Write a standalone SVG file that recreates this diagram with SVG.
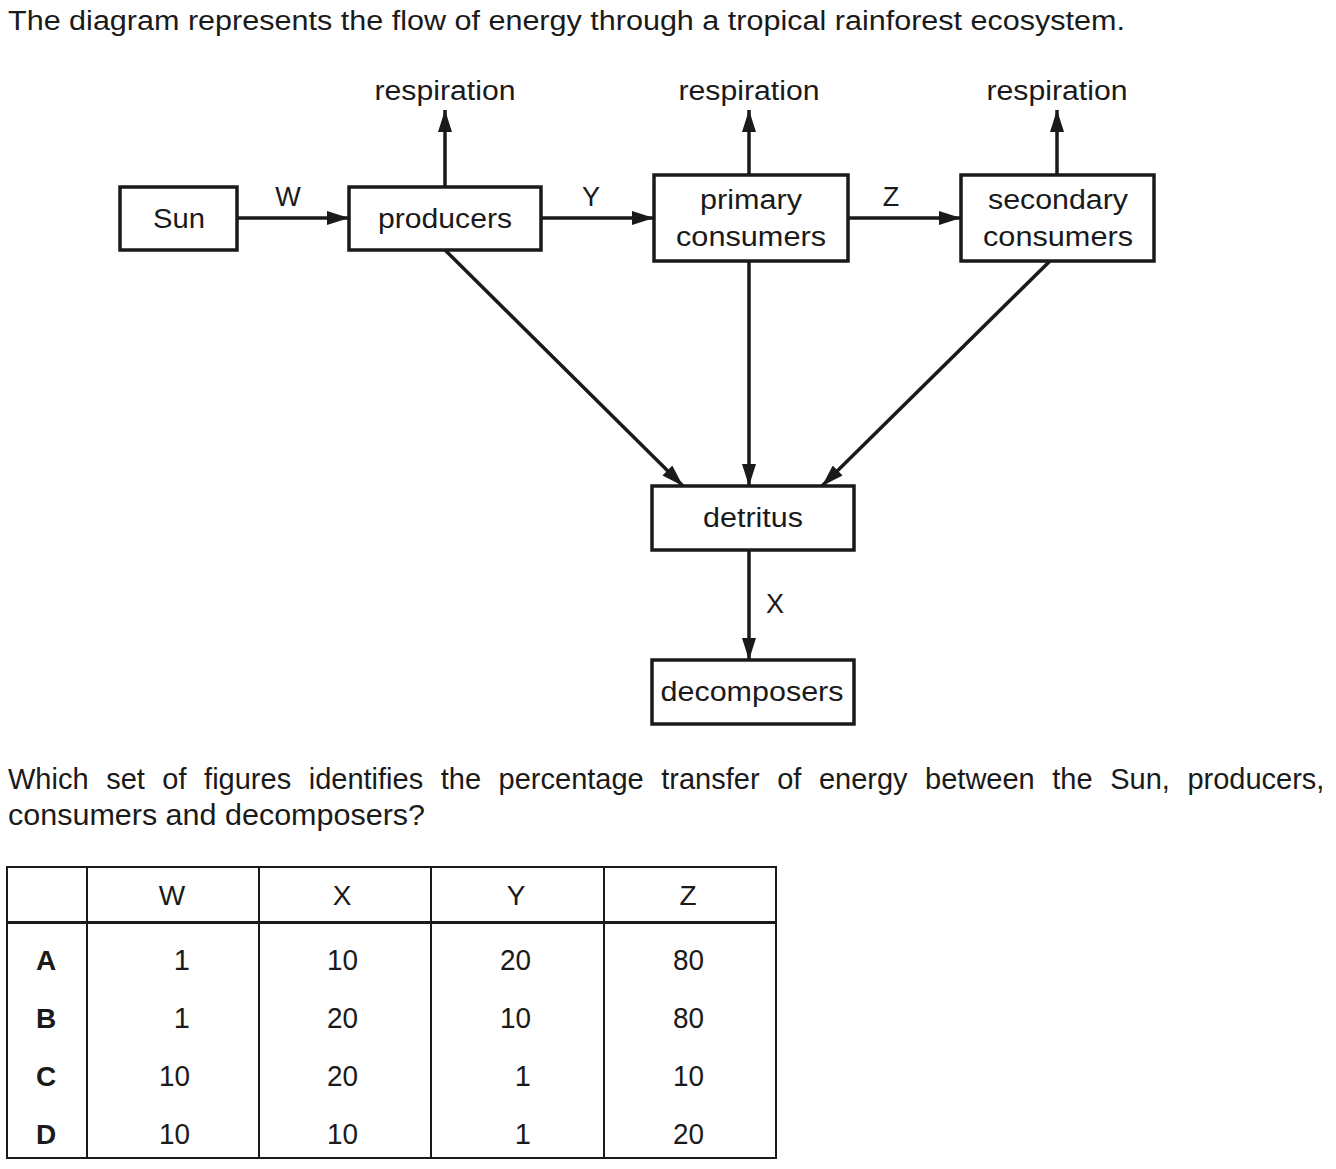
<svg xmlns="http://www.w3.org/2000/svg" width="1336" height="1169" viewBox="0 0 1336 1169">
<style>
text{font-family:"Liberation Sans",Arial,sans-serif;fill:#1a1a1a}
.t{font-size:27px}
.q{font-size:29px}
.l{font-size:27px;text-anchor:middle}
.box{fill:#fff;stroke:#1a1a1a;stroke-width:3.5}
.c{stroke:#1a1a1a;stroke-width:3.5;fill:none;marker-end:url(#ah)}
.g{stroke:#1a1a1a;stroke-width:2;fill:none}
.tb{font-size:28px;text-anchor:middle}
.tr{font-size:29px;text-anchor:end}
.b{font-weight:bold}
</style>
<defs>
<marker id="ah" viewBox="0 0 22 14" refX="22" refY="7" markerWidth="22" markerHeight="14" markerUnits="userSpaceOnUse" orient="auto">
<path d="M0,0 L22,7 L0,14 Z" fill="#1a1a1a"/>
</marker>
</defs>
<text class="t" x="8" y="30" textLength="1117" lengthAdjust="spacingAndGlyphs">The diagram represents the flow of energy through a tropical rainforest ecosystem.</text>

<g id="connectors">
<line class="c" x1="237" y1="218" x2="349" y2="218"/>
<line class="c" x1="541" y1="218" x2="654" y2="218"/>
<line class="c" x1="848" y1="218" x2="961" y2="218"/>
<line class="c" x1="445" y1="187" x2="445" y2="110"/>
<line class="c" x1="749" y1="175" x2="749" y2="110"/>
<line class="c" x1="1057" y1="175" x2="1057" y2="110"/>
<line class="c" x1="445" y1="250" x2="683" y2="486"/>
<line class="c" x1="749" y1="261" x2="749" y2="486"/>
<line class="c" x1="1050" y1="261" x2="822" y2="486"/>
<line class="c" x1="749" y1="550" x2="749" y2="660"/>
<text class="l" x="288" y="206">W</text>
<text class="l" x="591" y="206">Y</text>
<text class="l" x="891" y="206">Z</text>
<text class="l" x="775" y="613">X</text>
<text class="l" x="445" y="100" textLength="141" lengthAdjust="spacingAndGlyphs">respiration</text>
<text class="l" x="749" y="100" textLength="141" lengthAdjust="spacingAndGlyphs">respiration</text>
<text class="l" x="1057" y="100" textLength="141" lengthAdjust="spacingAndGlyphs">respiration</text>
</g>

<g id="sun">
<rect class="box" x="120" y="187" width="117" height="63"/>
<text class="l" x="179" y="228" textLength="52" lengthAdjust="spacingAndGlyphs">Sun</text>
</g>
<g id="producers">
<rect class="box" x="349" y="187" width="192" height="63"/>
<text class="l" x="445" y="228" textLength="134" lengthAdjust="spacingAndGlyphs">producers</text>
</g>
<g id="primary">
<rect class="box" x="654" y="175" width="194" height="86"/>
<text class="l" x="751" y="209" textLength="102" lengthAdjust="spacingAndGlyphs">primary</text>
<text class="l" x="751" y="246" textLength="150" lengthAdjust="spacingAndGlyphs">consumers</text>
</g>
<g id="secondary">
<rect class="box" x="961" y="175" width="193" height="86"/>
<text class="l" x="1058" y="209" textLength="140" lengthAdjust="spacingAndGlyphs">secondary</text>
<text class="l" x="1058" y="246" textLength="150" lengthAdjust="spacingAndGlyphs">consumers</text>
</g>
<g id="detritus">
<rect class="box" x="652" y="486" width="202" height="64"/>
<text class="l" x="753" y="527" textLength="100" lengthAdjust="spacingAndGlyphs">detritus</text>
</g>
<g id="decomposers">
<rect class="box" x="652" y="660" width="202" height="64"/>
<text class="l" x="752" y="701" textLength="183" lengthAdjust="spacingAndGlyphs">decomposers</text>
</g>

<text class="q" x="8" y="789" word-spacing="9.5">Which set of figures identifies the percentage transfer of energy between the Sun, producers,</text>
<text class="q" x="8" y="825" textLength="417" lengthAdjust="spacingAndGlyphs">consumers and decomposers?</text>

<g id="table">
<rect class="g" x="7" y="867" width="769" height="291"/>
<line class="g" x1="7" y1="922.5" x2="776" y2="922.5" style="stroke-width:3"/>
<line class="g" x1="87" y1="867" x2="87" y2="1158"/>
<line class="g" x1="259" y1="867" x2="259" y2="1158"/>
<line class="g" x1="431" y1="867" x2="431" y2="1158"/>
<line class="g" x1="604" y1="867" x2="604" y2="1158"/>
<text class="tb" x="172" y="905">W</text>
<text class="tb" x="342" y="905">X</text>
<text class="tb" x="516" y="905">Y</text>
<text class="tb" x="688" y="905">Z</text>
<text class="tb b" x="46" y="970">A</text>
<text class="tb b" x="46" y="1028">B</text>
<text class="tb b" x="46" y="1086">C</text>
<text class="tb b" x="46" y="1144">D</text>
<text class="tr" x="190" y="970">1</text>
<text class="tr" x="358" y="970" textLength="31" lengthAdjust="spacingAndGlyphs">10</text>
<text class="tr" x="531" y="970" textLength="31" lengthAdjust="spacingAndGlyphs">20</text>
<text class="tr" x="704" y="970" textLength="31" lengthAdjust="spacingAndGlyphs">80</text>
<text class="tr" x="190" y="1028">1</text>
<text class="tr" x="358" y="1028" textLength="31" lengthAdjust="spacingAndGlyphs">20</text>
<text class="tr" x="531" y="1028" textLength="31" lengthAdjust="spacingAndGlyphs">10</text>
<text class="tr" x="704" y="1028" textLength="31" lengthAdjust="spacingAndGlyphs">80</text>
<text class="tr" x="190" y="1086" textLength="31" lengthAdjust="spacingAndGlyphs">10</text>
<text class="tr" x="358" y="1086" textLength="31" lengthAdjust="spacingAndGlyphs">20</text>
<text class="tr" x="531" y="1086">1</text>
<text class="tr" x="704" y="1086" textLength="31" lengthAdjust="spacingAndGlyphs">10</text>
<text class="tr" x="190" y="1144" textLength="31" lengthAdjust="spacingAndGlyphs">10</text>
<text class="tr" x="358" y="1144" textLength="31" lengthAdjust="spacingAndGlyphs">10</text>
<text class="tr" x="531" y="1144">1</text>
<text class="tr" x="704" y="1144" textLength="31" lengthAdjust="spacingAndGlyphs">20</text>
</g>
</svg>
